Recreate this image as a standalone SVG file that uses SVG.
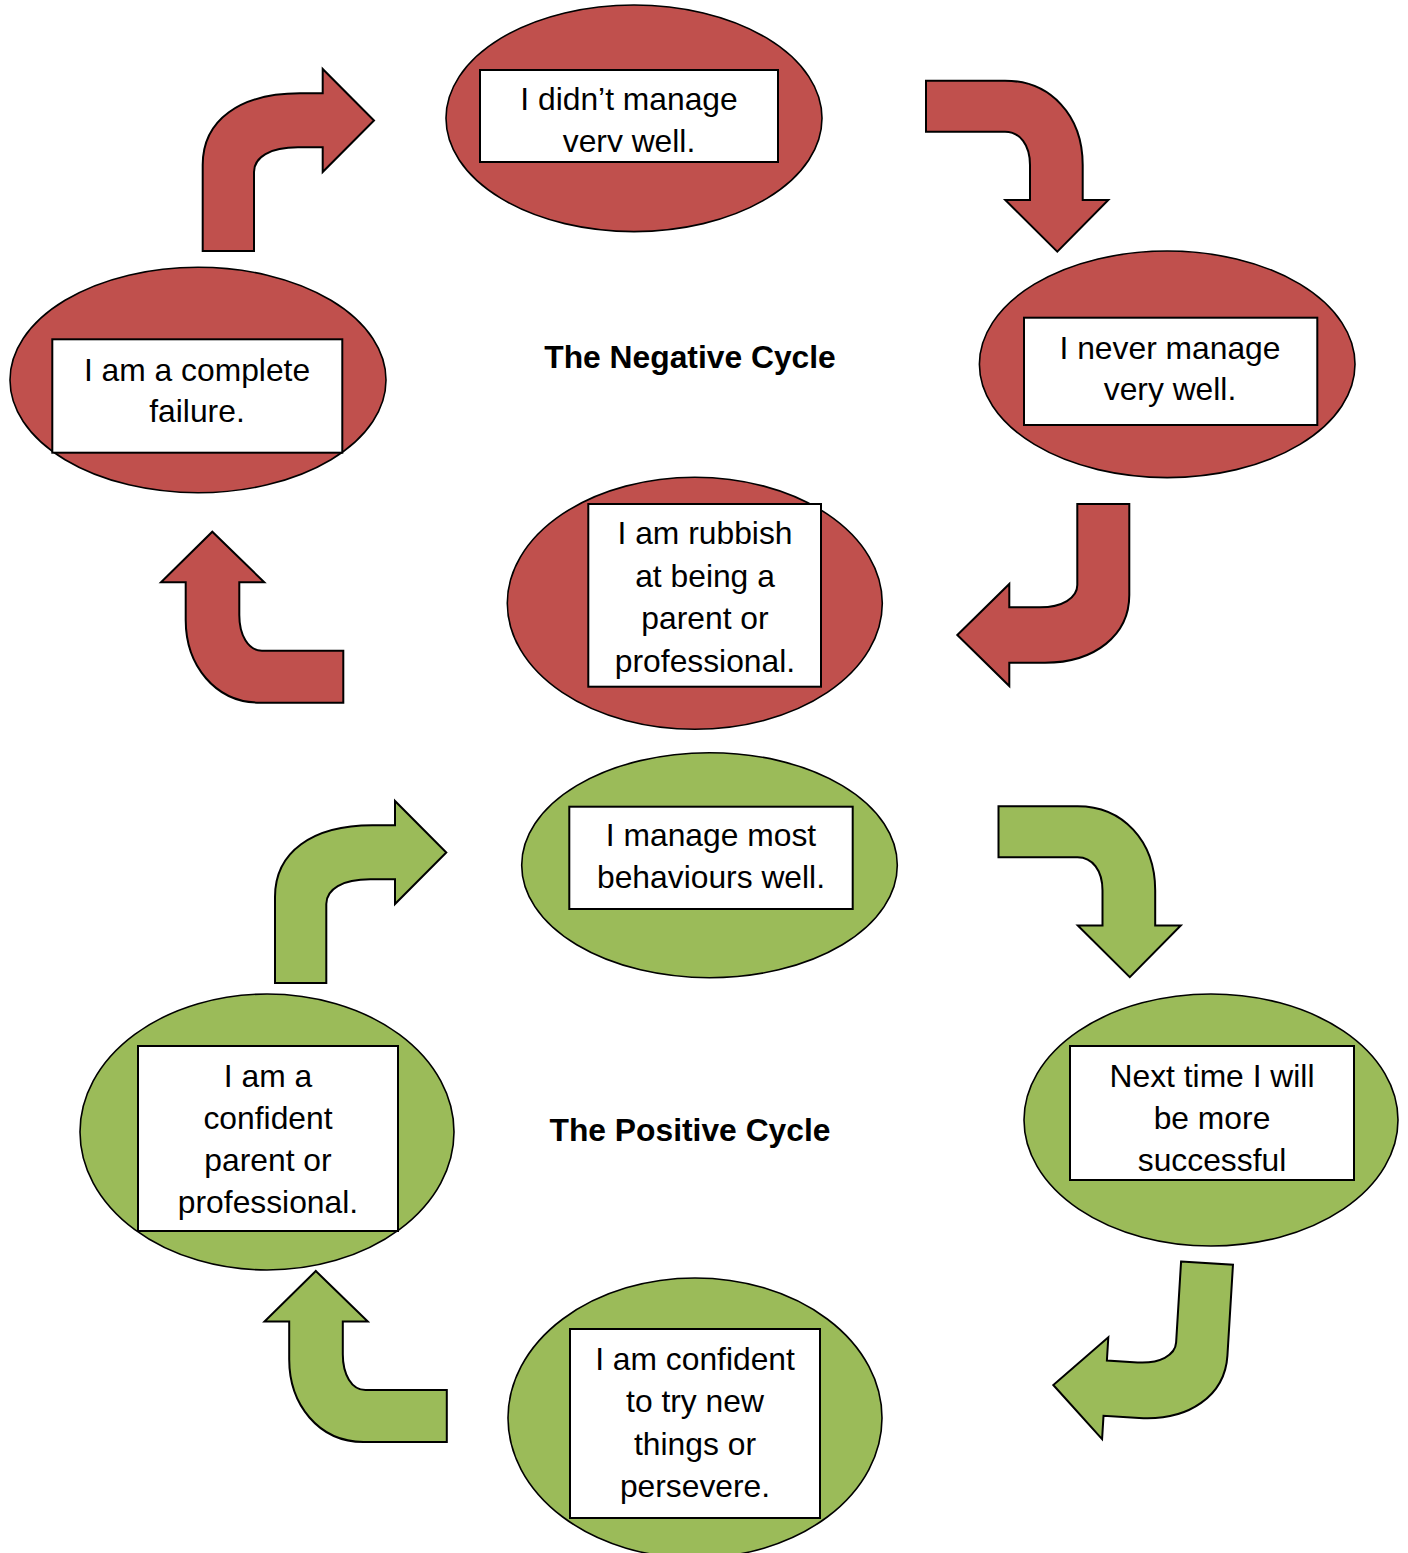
<svg xmlns="http://www.w3.org/2000/svg" width="1408" height="1553" viewBox="0 0 1408 1553">
<style>
.neg{fill:#C0504D;stroke:#000;stroke-width:1.6}
.pos{fill:#9BBB59;stroke:#000;stroke-width:1.6}
.box{fill:#fff;stroke:#000;stroke-width:2}
.t{font-family:"Liberation Sans",Arial,sans-serif;font-size:31.8px;fill:#000;text-anchor:middle}
.title{font-family:"Liberation Sans",Arial,sans-serif;font-size:31.8px;font-weight:bold;fill:#000;text-anchor:middle}
.arr{stroke:#000;stroke-width:2;stroke-linejoin:miter}
</style>
<defs>
<clipPath id="clipTop"><rect x="480" y="70" width="298" height="82"/></clipPath>
<path id="arrUpRight" d="M202.7,251 L202.7,165 C202.7,120 240,93.3 300,93.3 L322.7,93.3 L322.7,69 L374,120.5 L322.7,172 L322.7,147.3 L298,147.3 C270,147.3 254,157 254,172 L254,251 Z"/>
<path id="arrRightDown" d="M926,80.7 L1005,80.7 C1050,80.7 1082.7,115 1082.7,165 L1082.7,200 L1108.3,200 L1057.3,251.7 L1005.3,200 L1030,200 L1030,165 C1030,145 1020,131.7 1005,131.7 L926,131.7 Z"/>
<path id="arrDownLeft" d="M1077.3,504 L1129.3,504 L1129.3,595 C1129.3,635 1095,662.7 1045,662.7 L1009.3,662.7 L1009.3,686 L957.3,635 L1009.3,584 L1009.3,607.3 L1040,607.3 C1062,607.3 1077.3,598 1077.3,585 Z"/>
<path id="arrLeftUp" d="M343.3,650.7 L262,650.7 C248,650.7 239.3,635 239.3,615 L239.3,582.3 L264.3,582.3 L212.3,531.7 L161,582.3 L185.7,582.3 L185.7,620 C185.7,665 215,702.7 260,702.7 L343.3,702.7 Z"/>
</defs>

<g id="connectors">
  <use href="#arrUpRight" class="arr" fill="#C0504D"/>
  <use href="#arrRightDown" class="arr" fill="#C0504D"/>
  <use href="#arrDownLeft" class="arr" fill="#C0504D"/>
  <use href="#arrLeftUp" class="arr" fill="#C0504D"/>
  <use href="#arrUpRight" class="arr" fill="#9BBB59" transform="translate(72.3,732)"/>
  <use href="#arrRightDown" class="arr" fill="#9BBB59" transform="translate(72.5,725.5)"/>
  <use href="#arrDownLeft" class="arr" fill="#9BBB59" transform="translate(1053.3,1385) rotate(3.5) translate(-957.3,-635)"/>
  <use href="#arrLeftUp" class="arr" fill="#9BBB59" transform="translate(103.5,739.3)"/>
</g>

<g id="title-negative"><text class="title" x="690" y="368">The Negative Cycle</text></g>
<g id="title-positive"><text class="title" x="690" y="1141">The Positive Cycle</text></g>

<g id="neg-top">
  <ellipse class="neg" cx="634" cy="118.3" rx="188" ry="113.3"/>
  <rect class="box" x="480" y="70" width="298" height="92"/>
  <g clip-path="url(#clipTop)">
    <text class="t" x="629" y="110">I didn’t manage</text>
    <text class="t" x="629" y="151.5">very well.</text>
  </g>
</g>

<g id="neg-right">
  <ellipse class="neg" cx="1167.2" cy="364.3" rx="187.8" ry="113.3"/>
  <rect class="box" x="1024" y="317.7" width="293.3" height="107.3"/>
  <text class="t" x="1170" y="358.5">I never manage</text>
  <text class="t" x="1170" y="400">very well.</text>
</g>

<g id="neg-left">
  <ellipse class="neg" cx="198" cy="380" rx="188" ry="112.7"/>
  <rect class="box" x="52.3" y="339.3" width="290" height="113.4"/>
  <text class="t" x="197" y="380.7">I am a complete</text>
  <text class="t" x="197" y="422.3">failure.</text>
</g>

<g id="neg-middle">
  <ellipse class="neg" cx="694.8" cy="603.3" rx="187.5" ry="126"/>
  <rect class="box" x="588.3" y="504" width="232.7" height="182.7"/>
  <text class="t" x="705" y="544">I am rubbish</text>
  <text class="t" x="705" y="586.5">at being a</text>
  <text class="t" x="705" y="629">parent or</text>
  <text class="t" x="705" y="671.5">professional.</text>
</g>

<g id="pos-top">
  <ellipse class="pos" cx="709.5" cy="865.2" rx="187.8" ry="112.5"/>
  <rect class="box" x="569.3" y="806.7" width="283.4" height="102.3"/>
  <text class="t" x="711" y="846">I manage most</text>
  <text class="t" x="711" y="888">behaviours well.</text>
</g>

<g id="pos-right">
  <ellipse class="pos" cx="1211" cy="1120" rx="187" ry="126"/>
  <rect class="box" x="1070" y="1046" width="284" height="134"/>
  <text class="t" x="1212" y="1087">Next time I will</text>
  <text class="t" x="1212" y="1129">be more</text>
  <text class="t" x="1212" y="1171">successful</text>
</g>

<g id="pos-bottom">
  <ellipse class="pos" cx="695" cy="1418" rx="187" ry="140"/>
  <rect class="box" x="570" y="1329" width="250" height="189"/>
  <text class="t" x="695" y="1370">I am confident</text>
  <text class="t" x="695" y="1412">to try new</text>
  <text class="t" x="695" y="1455">things or</text>
  <text class="t" x="695" y="1497">persevere.</text>
</g>

<g id="pos-left">
  <ellipse class="pos" cx="267" cy="1132" rx="187" ry="138"/>
  <rect class="box" x="138" y="1046" width="260" height="185"/>
  <text class="t" x="268" y="1087">I am a</text>
  <text class="t" x="268" y="1129">confident</text>
  <text class="t" x="268" y="1171">parent or</text>
  <text class="t" x="268" y="1213">professional.</text>
</g>
</svg>
